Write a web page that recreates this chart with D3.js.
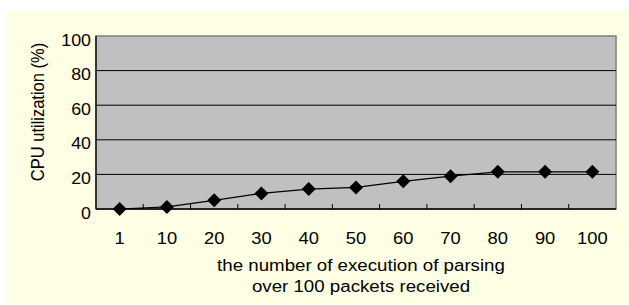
<!DOCTYPE html>
<html>
<head>
<meta charset="utf-8">
<script src="https://cdn.jsdelivr.net/npm/d3@7"></script>
<style>
  html, body { margin: 0; padding: 0; background: #fff; }
  svg { display: block; font-family: "Liberation Sans", Arial, sans-serif; }
</style>
</head>
<body>
<svg id="chart" width="629" height="305"></svg>
<script>
// chart data
const categories = ['1', '10', '20', '30', '40', '50', '60', '70', '80', '90', '100'];
const cpuValues = [0, 1.2, 5, 9, 11.5, 12.5, 16, 19, 21.5, 21.5, 21.5];
const yTicks = [0, 20, 40, 60, 80, 100];

const svg = d3.select('#chart');
const W = 629, H = 305;
const plot = { left: 96, top: 36, right: 616, bottom: 209 };

// pale yellow backdrop
svg.append('rect').attr('x', 6).attr('y', 10).attr('width', W - 6).attr('height', H - 11)
  .attr('fill', '#ffffe5');

const x = d3.scaleBand().domain(categories).range([plot.left, plot.right]);
const y = d3.scaleLinear().domain([0, 100]).range([plot.bottom, plot.top]);

// the original text is a bit wider than it is tall
function label(px, py, str, size, sx, anchor) {
  return svg.append('text')
    .attr('transform', `translate(${px},${py}) scale(${sx},1)`)
    .attr('text-anchor', anchor || 'middle')
    .attr('font-size', size)
    .attr('fill', '#000')
    .text(str);
}

// plot area
svg.append('rect')
  .attr('x', plot.left).attr('y', plot.top)
  .attr('width', plot.right - plot.left).attr('height', plot.bottom - plot.top)
  .attr('fill', '#c0c0c0').attr('stroke', '#808080').attr('stroke-width', 1.5);

// gridlines
svg.append('g').selectAll('line').data(yTicks.filter(t => t > 0 && t < 100)).join('line')
  .attr('x1', plot.left).attr('x2', plot.right)
  .attr('y1', d => y(d)).attr('y2', d => y(d))
  .attr('stroke', '#000').attr('stroke-width', 1);

// y axis
svg.append('line')
  .attr('x1', plot.left).attr('x2', plot.left)
  .attr('y1', plot.top).attr('y2', plot.bottom)
  .attr('stroke', '#000').attr('stroke-width', 1.3);
yTicks.forEach(t => label(91, y(t) + 9.5, String(t), 16.5, 1.08, 'end'));

// x axis (category, ticks between points, pointing inward)
svg.append('line')
  .attr('x1', plot.left).attr('x2', plot.right)
  .attr('y1', plot.bottom).attr('y2', plot.bottom)
  .attr('stroke', '#000').attr('stroke-width', 1.3);
svg.append('g').selectAll('line').data(categories.slice(1)).join('line')
  .attr('x1', d => x(d)).attr('x2', d => x(d))
  .attr('y1', plot.bottom).attr('y2', plot.bottom - 5)
  .attr('stroke', '#000').attr('stroke-width', 1);
categories.forEach(c => label(x(c) + x.bandwidth() / 2, 243.5, c, 17, 1.08));

// axis titles
svg.append('text')
  .attr('transform', 'translate(44,112) scale(1.15,1) rotate(-90)')
  .attr('text-anchor', 'middle')
  .attr('font-size', 16.5)
  .text('CPU utilization (%)');
label(361, 271, 'the number of execution of parsing', 17, 1.1);
label(361, 291.5, 'over 100 packets received', 17, 1.1);

// series
const pts = categories.map((c, i) => [x(c) + x.bandwidth() / 2, y(cpuValues[i])]);
svg.append('path')
  .attr('d', d3.line()(pts))
  .attr('fill', 'none').attr('stroke', '#000').attr('stroke-width', 1.2);
svg.append('g').selectAll('path').data(pts).join('path')
  .attr('transform', d => `translate(${d[0]},${d[1]})`)
  .attr('d', 'M0,-7L7,0L0,7L-7,0Z')
  .attr('fill', '#000');
</script>
</body>
</html>
